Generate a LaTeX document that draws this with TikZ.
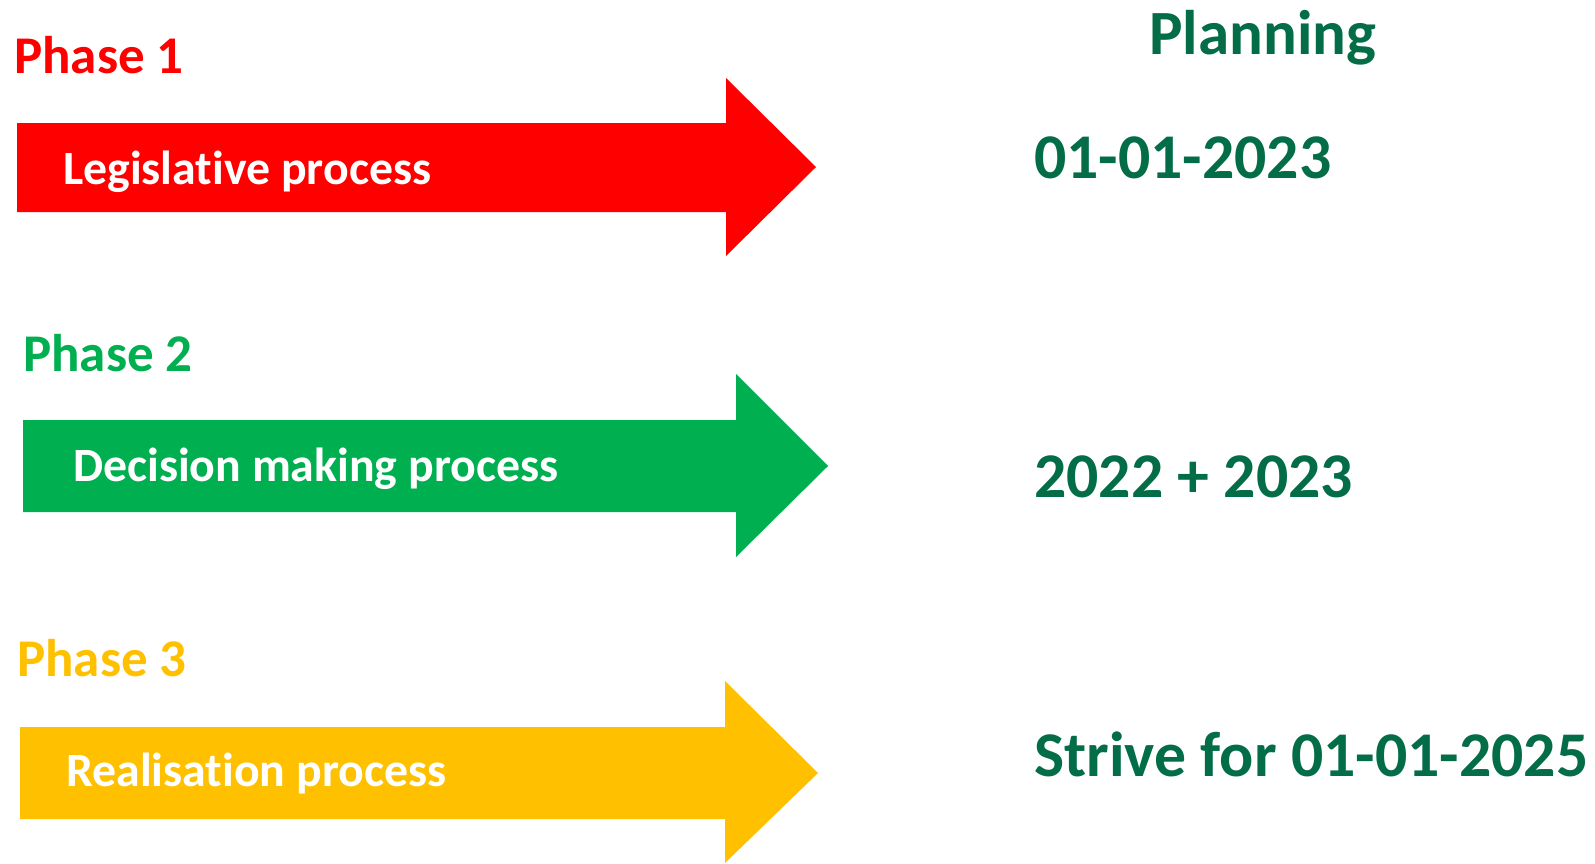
\documentclass[tikz,border=0pt]{standalone}
\usepackage{fontspec}
\setmainfont{Carlito}[Ligatures=NoCommon]
\definecolor{phred}{HTML}{FF0000}
\definecolor{phgreen}{HTML}{00B050}
\definecolor{phorange}{HTML}{FFC000}
\definecolor{plgreen}{HTML}{036D47}
\tikzset{
  phaselbl/.style={anchor=base west, inner sep=0pt, font=\fontsize{53}{64}\selectfont\bfseries},
  arrowlbl/.style={anchor=base west, inner sep=0pt, text=white, font=\fontsize{47.8}{58}\selectfont\bfseries},
  planlbl/.style={anchor=base west, inner sep=0pt, text=plgreen, font=\fontsize{63.7}{76}\selectfont\bfseries},
}
\begin{document}
\begin{tikzpicture}[x=1pt,y=-1pt]
\useasboundingbox (0,0) rectangle (1595,863);
% arrows
\fill[phred] (17,123) -- (726,123) -- (726,78) -- (816,167) -- (726,256) -- (726,212) -- (17,212) -- cycle;
\fill[phgreen] (23,420) -- (736,420) -- (736,374) -- (828,466) -- (736,557) -- (736,512) -- (23,512) -- cycle;
\fill[phorange] (20,727) -- (725,727) -- (725,681) -- (818,773) -- (725,863) -- (725,819) -- (20,819) -- cycle;
% phase labels
\node[phaselbl, text=phred] (p1) at (14,73) {Phase 1};
\node[phaselbl, text=phgreen] (p2) at (23,371) {Phase 2};
\node[phaselbl, text=phorange] (p3) at (17,676) {Phase 3};
% arrow labels
\node[arrowlbl] (a1) at (63,184) {Legislative process};
\node[arrowlbl] (a2) at (73,481) {Decision making process};
\node[arrowlbl] (a3) at (66,786) {Realisation process};
% planning
\node[anchor=base west, inner sep=0pt, text=plgreen, font=\fontsize{63}{75}\selectfont\bfseries] (pl) at (1149,54) {Planning};
\node[planlbl] (d1) at (1034,178) {01-01-2023};
\node[planlbl] (d2) at (1034,497) {2022 + 2023};
\node[planlbl] (d3) at (1034,776) {Strive for 01-01-2025};
\end{tikzpicture}
\end{document}
